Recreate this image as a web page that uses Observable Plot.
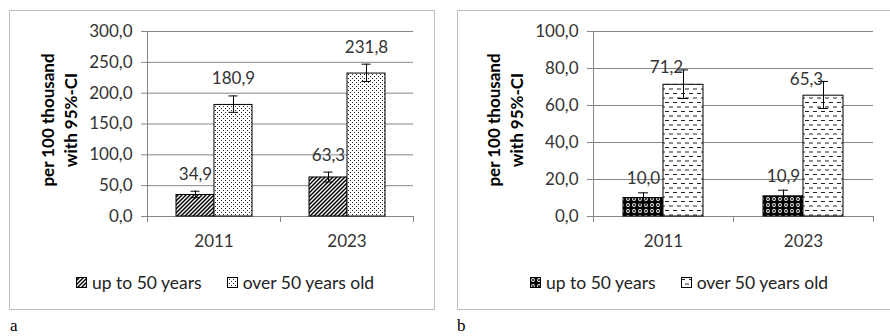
<!DOCTYPE html>
<html>
<head>
<meta charset="utf-8">
<script src="https://cdn.jsdelivr.net/npm/d3@7"></script>
<script src="https://cdn.jsdelivr.net/npm/@observablehq/plot@0.6"></script>
<style>
  html, body { margin: 0; padding: 0; background: #fff; }
  body { width: 890px; height: 336px; position: relative; overflow: hidden; font-family: Lato, "Open Sans", sans-serif; }
  .box { position: absolute; top: 10px; height: 300px; border: 1px solid #bfbfbf; box-sizing: border-box; }
  .chart { position: absolute; top: 10px; }
  .ytitle { position: absolute; width: 170px; height: 46px; line-height: 23px; font-size: 17px; font-weight: 700;
            color: #000; text-align: center; white-space: pre; transform: rotate(-90deg); }
  .legend { position: absolute; top: 272px; display: flex; align-items: center; font-size: 17.5px; color: #222; white-space: nowrap; }
  .legend .item { display: flex; align-items: center; margin-right: 25px; }
  .legend svg { margin-right: 5px; }
  .tag { position: absolute; top: 316px; font-family: "Liberation Serif", serif; font-size: 17px; color: #000; }
</style>
</head>
<body>
<svg width="0" height="0" style="position:absolute">
  <defs>
    <pattern id="hatch" width="4" height="4" patternUnits="userSpaceOnUse">
      <rect width="4" height="4" fill="#fff"/>
      <path d="M-1,1 l2,-2 M0,4 l4,-4 M3,5 l2,-2" stroke="#000" stroke-width="1.5"/>
    </pattern>
    <pattern id="dots" width="4" height="4" patternUnits="userSpaceOnUse">
      <rect width="4" height="4" fill="#fff"/>
      <rect x="0" y="0" width="1" height="1" fill="#222"/>
      <rect x="2" y="2" width="1" height="1" fill="#222"/>
    </pattern>
    <pattern id="spheres" width="6" height="6" patternUnits="userSpaceOnUse">
      <rect width="6" height="6" fill="#000"/>
      <circle cx="3" cy="3" r="1.9" fill="#fff"/>
      <circle cx="3" cy="3" r="1" fill="#000"/>
    </pattern>
    <pattern id="dashes" width="8" height="9" patternUnits="userSpaceOnUse">
      <rect width="8" height="9" fill="#fff"/>
      <path d="M0,2.5h4 M4,7h4" stroke="#222" stroke-width="1"/>
    </pattern>
  </defs>
</svg>

<div class="box" style="left:9px; width:426px;"></div>
<div class="box" style="left:457px; width:440px;"></div>
<div id="ca" class="chart" style="left:10px;"></div>
<div id="cb" class="chart" style="left:457px;"></div>
<div class="ytitle" style="left:-26px; top:97px;"></div>
<div class="ytitle" style="left:420px; top:97px;"></div>
<div id="la" class="legend" style="left:76px;"></div>
<div id="lb" class="legend" style="left:530px;"></div>
<div class="tag" style="left:10px;">a</div>
<div class="tag" style="left:457px;">b</div>

<script>
// ---------- data ----------
const years = ["2011", "2023"];
const groups = ["up to 50 years", "over 50 years old"];
const yTitle = "per 100 thousand\nwith 95%-CI";

// panel a
const aUp = [34.9, 63.3];
const aUpLow = [30.5, 56.0];
const aUpHigh = [41.0, 72.0];
const aOver = [180.9, 231.8];
const aOverLow = [168.9, 219.0];
const aOverHigh = [195.5, 247.0];
const aTicks = [0, 50, 100, 150, 200, 250, 300];

// panel b
const bUp = [10.0, 10.9];
const bUpLow = [7.2, 7.6];
const bUpHigh = [12.8, 14.2];
const bOver = [71.2, 65.3];
const bOverLow = [63.8, 58.4];
const bOverHigh = [79.2, 73.0];
const bTicks = [0, 20, 40, 60, 80, 100];

const fmt = v => v.toFixed(1).replace(".", ",");

function drawPanel(cfg) {
  const rows = years.flatMap((year, i) => [
    {year, group: groups[0], value: cfg.up[i], lo: cfg.upLo[i], hi: cfg.upHi[i]},
    {year, group: groups[1], value: cfg.over[i], lo: cfg.overLo[i], hi: cfg.overHi[i]}
  ]);
  const ymax = d3.max(cfg.ticks);
  const common = {fx: "year", x: "group"};
  const chart = Plot.plot({
    width: cfg.width,
    height: 250,
    marginLeft: cfg.marginLeft,
    marginRight: cfg.marginRight,
    marginTop: 21,
    marginBottom: 44,
    style: {fontFamily: "Lato, sans-serif", fontSize: "17px", color: "#333", background: "none", overflow: "visible"},
    fx: {domain: years, padding: 0, label: null},
    x: {domain: groups, paddingInner: 0, paddingOuter: cfg.paddingOuter, axis: null},
    y: {domain: [0, ymax], label: null},
    color: {domain: groups, range: cfg.fills},
    marks: [
      Plot.gridY(cfg.ticks, {stroke: "#868686", strokeOpacity: 1}),
      Plot.axisY(cfg.ticks, {tickSize: 6, tickPadding: 9, tickFormat: fmt, stroke: "#868686", fill: "#333", fontSize: 17, label: null}),
      Plot.axisFx({anchor: "bottom", tickSize: 0, tickPadding: 18, fontSize: 17, fill: "#333", label: null}),
      Plot.ruleY([0], {stroke: "#868686"}),
      Plot.barY(rows, {...common, y: "value", fill: "group", stroke: "#000", strokeWidth: 1}),
      Plot.ruleX(rows, {...common, y1: "lo", y2: "hi", stroke: "#000"}),
      Plot.tickY(rows, {...common, y: "lo", stroke: "#000", insetLeft: cfg.capInset, insetRight: cfg.capInset}),
      Plot.tickY(rows, {...common, y: "hi", stroke: "#000", insetLeft: cfg.capInset, insetRight: cfg.capInset}),
      Plot.text(rows, {...common, y: "hi", text: d => fmt(d.value), filter: d => d.group === groups[0],
        dx: cfg.labelDx[0], dy: cfg.labelDy[0], fill: "#333", fontSize: 17}),
      Plot.text(rows, {...common, y: "hi", text: d => fmt(d.value), filter: d => d.group === groups[1],
        dx: cfg.labelDx[1], dy: cfg.labelDy[1], fill: "#333", fontSize: 17})
    ]
  });

  // Excel-style axis line and category-boundary tick marks, from the chart's own scales
  const fx = chart.scale("fx"), y = chart.scale("y");
  const edges = years.map(yr => fx.apply(yr)).concat(fx.apply(years[years.length - 1]) + fx.bandwidth);
  const y0 = y.apply(0), yTop = y.apply(ymax);
  const g = d3.select(chart).append("g").attr("stroke", "#868686").attr("fill", "none");
  const px = v => Math.round(v) + 0.5;
  g.append("line").attr("x1", px(edges[0])).attr("x2", px(edges[0])).attr("y1", Math.round(yTop)).attr("y2", Math.round(y0) + 6);
  g.selectAll(".edge").data(edges.slice(1)).join("line")
    .attr("x1", d => px(d)).attr("x2", d => px(d)).attr("y1", Math.round(y0)).attr("y2", Math.round(y0) + 6);

  document.getElementById(cfg.id).append(chart);

  // legend
  const lg = d3.select("#" + cfg.legendId);
  groups.forEach((name, i) => {
    const item = lg.append("div").attr("class", "item");
    const s = item.append("svg").attr("width", 11).attr("height", 11);
    s.append("rect").attr("x", 0.5).attr("y", 0.5).attr("width", 10).attr("height", 10)
      .attr("fill", cfg.fills[i]).attr("stroke", "#000");
    item.append("span").text(name);
  });
}

drawPanel({
  id: "ca", legendId: "la", width: 424, marginLeft: 136, marginRight: 21,
  ticks: aTicks, up: aUp, upLo: aUpLow, upHi: aUpHigh, over: aOver, overLo: aOverLow, overHi: aOverHigh,
  fills: ["url(#hatch)", "url(#dots)"], paddingOuter: 0.734, capInset: 14.5,
  labelDx: [0, 0], labelDy: [-17, -17]
});
drawPanel({
  id: "cb", legendId: "lb", width: 433, marginLeft: 136, marginRight: 17,
  ticks: bTicks, up: bUp, upLo: bUpLow, upHi: bUpHigh, over: bOver, overLo: bOverLow, overHi: bOverHigh,
  fills: ["url(#spheres)", "url(#dashes)"], paddingOuter: 0.75, capInset: 15,
  labelDx: [0, -17], labelDy: [-14, -2]
});

document.querySelectorAll(".ytitle").forEach(el => el.textContent = yTitle);
</script>
</body>
</html>
